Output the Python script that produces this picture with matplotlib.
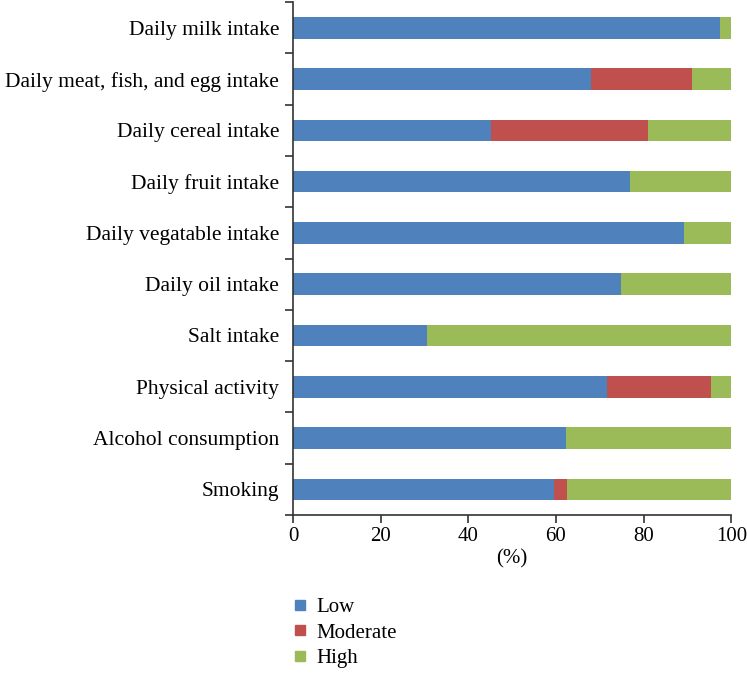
import matplotlib.pyplot as plt
import numpy as np
from matplotlib.lines import Line2D

plt.rcParams['font.family'] = ['Liberation Serif', 'DejaVu Serif']

categories = ['Daily milk intake', 'Daily meat, fish, and egg intake', 'Daily cereal intake',
              'Daily fruit intake', 'Daily vegatable intake', 'Daily oil intake', 'Salt intake',
              'Physical activity', 'Alcohol consumption', 'Smoking']
low = [97.5, 68.0, 45.1, 77.0, 89.1, 74.8, 30.6, 71.6, 62.2, 59.6]
moderate = [0.0, 23.0, 36.0, 0.0, 0.0, 0.0, 0.0, 23.7, 0.0, 2.9]
high = [2.5, 9.0, 18.9, 23.0, 10.9, 25.2, 69.4, 4.7, 37.8, 37.5]
series_names = ['Low', 'Moderate', 'High']
colors = ['#4F81BD', '#C0504D', '#9BBB59']

fig = plt.figure(figsize=(7.47, 6.73), dpi=100)
ax = fig.add_axes([0.3922, 0.2348, 0.5868, 0.762])

y = np.arange(len(categories))
left = np.zeros(len(categories))
for vals, c in zip([low, moderate, high], colors):
    ax.barh(y, vals, left=left, height=0.42, color=c, edgecolor='none')
    left += np.array(vals)

ax.set_ylim(len(categories) - 0.5, -0.5)
ax.set_xlim(0, 100)
ax.set_xticks(range(0, 101, 20))
ax.set_yticks(y)
ax.set_yticklabels(categories)
ax.set_yticks(np.arange(-0.5, len(categories)), minor=True)
ax.tick_params(axis='y', which='major', length=0, pad=10, labelsize=15.5)
ax.tick_params(axis='y', which='minor', length=6, width=1.2, color='#333333')
ax.tick_params(axis='x', length=6, width=1.2, color='#333333', labelsize=15, pad=3)
ax.spines['top'].set_visible(False)
ax.spines['right'].set_visible(False)
for s in ['left', 'bottom']:
    ax.spines[s].set_linewidth(1.2)
    ax.spines[s].set_color('#333333')
ax.set_xlabel('(%)', fontsize=15, labelpad=2)

handles = [Line2D([], [], marker='s', linestyle='none', markersize=7, color=c) for c in colors]
fig.legend(handles, series_names, loc='upper left', bbox_to_anchor=(0.376, 0.124),
           frameon=False, fontsize=15, handletextpad=0.3, labelspacing=0.27,
           borderaxespad=0, handlelength=1.0)

fig.savefig('out.png', dpi=100)
